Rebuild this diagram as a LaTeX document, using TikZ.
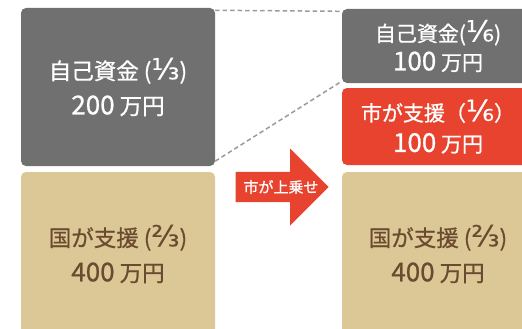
\documentclass[tikz,border=0pt]{standalone}
\usepackage{fontspec}
\setmainfont{Noto Sans CJK JP}[FakeBold=0.8]
\newfontfamily\fracfont{DejaVu Sans}[FakeBold=0.5]
\usetikzlibrary{shapes.arrows}

\definecolor{ownGray}{HTML}{707070}
\definecolor{cityRed}{HTML}{E8432E}
\definecolor{stateTan}{HTML}{DBC896}
\definecolor{stateBrown}{HTML}{6B4B2F}
\definecolor{linkGray}{HTML}{9B9B9B}

\newcommand{\frc}[1]{{\fracfont\fontsize{29}{29}\selectfont #1}}
\newcommand{\yen}[1]{{\fontsize{26}{26}\selectfont #1}}

\begin{document}
\begin{tikzpicture}[x=1pt, y=-1pt,
  box/.style={rectangle, rounded corners=5pt, align=center, inner sep=0pt},
  link/.style={draw=linkGray, line width=1.5pt, dash pattern=on 4.5pt off 3pt}]

\useasboundingbox (0,0) rectangle (522,329);
\clip (0,0) rectangle (522,329);

% before
\node[box, fill=ownGray, text=white, minimum width=194pt, minimum height=158pt,
  font=\fontsize{22.5}{35}\selectfont] (own) at (118,87)
  {自己資金 (\frc{⅓})\\\yen{200} 万円};
\node[box, fill=stateTan, text=stateBrown, minimum width=194pt, minimum height=164pt,
  font=\fontsize{22.5}{35}\selectfont] (state) at (118,254)
  {国が支援 (\frc{⅔})\\\yen{400} 万円};

% after
\node[box, fill=ownGray, text=white, minimum width=192pt, minimum height=74pt,
  font=\fontsize{21}{29}\selectfont] (ownR) at (438,46)
  {自己資金(\frc{⅙})\\\yen{100} 万円};
\node[box, fill=cityRed, text=white, minimum width=192pt, minimum height=77pt,
  font=\fontsize{21}{31}\selectfont] (city) at (438,126.5)
  {市が支援（\frc{⅙}）\\\yen{100} 万円};
\node[box, fill=stateTan, text=stateBrown, minimum width=192pt, minimum height=164pt,
  font=\fontsize{22.5}{35}\selectfont] (stateR) at (438,254)
  {国が支援 (\frc{⅔})\\\yen{400} 万円};

\draw[link] ([yshift=-2.5pt]own.north east) -- ([yshift=-2.5pt]ownR.north west);
\draw[link] ([yshift=5pt]own.south east) -- ([yshift=2pt]ownR.south west);

\node[single arrow, fill=cityRed, inner sep=0pt, text height=30pt, text depth=0pt,
  minimum height=93pt, single arrow head extend=23.5pt, anchor=tip]
  (addon) at (329,187) {};
\node[text=white, inner sep=0pt, font=\fontsize{15}{15}\selectfont]
  (addonText) at (281,187) {市が上乗せ};

\end{tikzpicture}
\end{document}
